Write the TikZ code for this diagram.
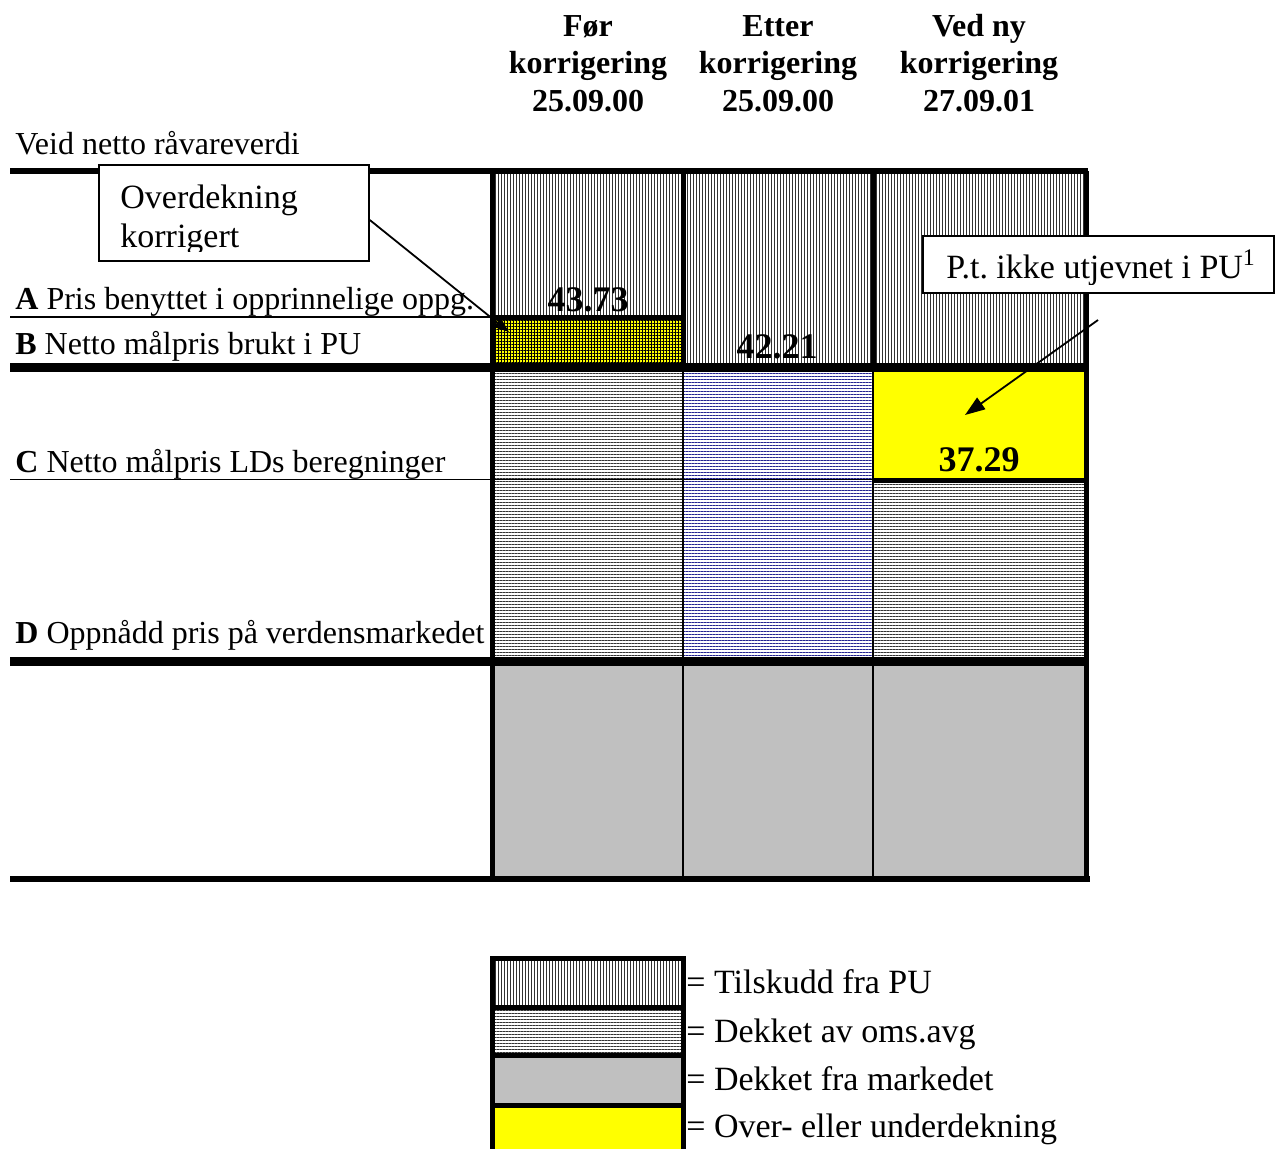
\documentclass[tikz,border=0pt]{standalone}
\usepackage{fontspec}
\setmainfont{Liberation Serif}
\frenchspacing
\usetikzlibrary{patterns.meta,arrows.meta}
\definecolor{mktgray}{RGB}{192,192,192}
\definecolor{hblue}{RGB}{35,35,145}
\definecolor{pureyellow}{RGB}{255,255,0}
\definecolor{hatchgray}{RGB}{50,50,50}
\begin{document}
\begin{tikzpicture}[x=0.5pt,y=-0.5pt,
  lbl/.style={font=\fontsize{16}{19}\selectfont, anchor=base west, inner sep=0pt},
  hdr/.style={font=\bfseries\fontsize{16}{19}\selectfont, anchor=base, inner sep=0pt},
  num/.style={font=\bfseries\fontsize{18}{21}\selectfont, anchor=base, inner sep=0pt},
  call/.style={font=\fontsize{17}{20}\selectfont, anchor=base west, inner sep=0pt},
  vhatch/.style={pattern={Lines[angle=90,distance=1.5pt,line width=0.5pt]}, pattern color=hatchgray},
  hhatch/.style={pattern={Lines[angle=0,distance=1.5pt,line width=0.5pt]}, pattern color=hatchgray},
  bhatch/.style={pattern={Lines[angle=0,distance=1.5pt,line width=0.5pt]}, pattern color=hblue},
  ygrid/.style={pattern={Hatch[angle=0,distance=1.5pt,line width=0.45pt]}, pattern color=black},
  thickrule/.style={line width=3pt},
  heavyrule/.style={line width=4.5pt},
  divider/.style={line width=2.5pt},
  thinrule/.style={line width=0.8pt},
  calloutbox/.style={draw, fill=white, line width=0.8pt, inner sep=0pt},
  pointer/.style={line width=0.9pt}
]
\useasboundingbox (0,0) rectangle (1276,1148);

% ---------- column headers ----------
\node[hdr] (h1a) at (588,36) {Før};
\node[hdr] (h1b) at (588,73.5) {korrigering};
\node[hdr] (h1c) at (588,111) {25.09.00};
\node[hdr] (h2a) at (778,36) {Etter};
\node[hdr] (h2b) at (778,73.5) {korrigering};
\node[hdr] (h2c) at (778,111) {25.09.00};
\node[hdr] (h3a) at (979,36) {Ved ny};
\node[hdr] (h3b) at (979,73.5) {korrigering};
\node[hdr] (h3c) at (979,111) {27.09.01};

% ---------- fills ----------
\fill[vhatch] (492,171) rectangle (683,318);
\fill[pureyellow] (492,318) rectangle (683,367);
\fill[ygrid] (492,318) rectangle (683,367);
\fill[vhatch] (683,171) rectangle (873,367);
\fill[vhatch] (873,171) rectangle (1086,367);
\fill[hhatch] (492,367) rectangle (683,660);
\fill[bhatch] (683,367) rectangle (873,660);
\fill[pureyellow] (873,367) rectangle (1086,480);
\fill[hhatch] (873,480) rectangle (1086,660);
\fill[mktgray] (492,660) rectangle (1086,878);

% ---------- rules ----------
\draw[thinrule] (10,317) -- (492,317);
\draw[divider] (492,317) -- (683,317);
\draw[thinrule] (10,479.5) -- (873,479.5);
\draw[divider] (873,480.5) -- (1086,480.5);
\draw[divider] (683,171) -- (683,367);
\draw[divider] (873,171) -- (873,367);
\draw[line width=1pt] (683,367) -- (683,878);
\draw[line width=1pt] (873,367) -- (873,878);
\draw[divider] (492,171) -- (492,879);
\draw[divider] (1086,171) -- (1086,879);
\draw[thickrule] (10,171) -- (1088,171);
\draw[heavyrule] (10,367.5) -- (1088,367.5);
\draw[heavyrule] (10,661) -- (1088,661);
\draw[thickrule] (10,879) -- (1090,879);

% ---------- row labels ----------
\node[lbl] (veid) at (15,154) {Veid netto råvareverdi};
\node[lbl] (labA) at (15,309) {\textbf{A} Pris benyttet i opprinnelige oppg.};
\node[lbl] (labB) at (15,354) {\textbf{B} Netto målpris brukt i PU};
\node[lbl] (labC) at (15,472) {\textbf{C} Netto målpris LDs beregninger};
\node[lbl] (labD) at (15,643) {\textbf{D} Oppnådd pris på verdensmarkedet};

% ---------- values ----------
\node[num] (v1) at (588,311) {43.73};
\node[num] (v2) at (777,358) {42.21};
\node[num] (v3) at (979,471) {37.29};

% ---------- callout: Overdekning korrigert ----------
\node[calloutbox, minimum width=135pt, minimum height=48pt] (ovd) at (234,213) {};
\begin{scope}
  \clip (99,165) rectangle (369,251);
  \node[call] (ovdt1) at (120,208) {Overdekning};
  \node[call] (ovdt2) at (120,247) {korrigert};
\end{scope}
\coordinate (ovdtip) at (509,332);
\draw[pointer, -{Triangle[length=7.5pt,width=5.5pt]}] (ovd.east) ++(0,7) -- (ovdtip);

% ---------- callout: P.t. ikke utjevnet i PU ----------
\node[calloutbox, minimum width=175.5pt, minimum height=28.5pt] (pu) at (1098.75,264.5) {};
\begin{scope}
  \clip (923,236) rectangle (1276,284);
  \node[call] (put) at (946,278) {P.t. ikke utjevnet i PU\textsuperscript{1}};
\end{scope}
\coordinate (pufrom) at (1098,320);
\coordinate (puto) at (965,415);
\draw[pointer, -{Triangle[length=10pt,width=7pt]}] (pufrom) -- (puto);

% ---------- legend ----------
\draw[divider, vhatch] (492,958) rectangle (683,1007);
\draw[divider, hhatch] (492,1007) rectangle (683,1055.5);
\draw[divider, fill=mktgray] (492,1055.5) rectangle (683,1105.5);
\draw[divider, fill=pureyellow] (492,1105.5) rectangle (683,1170);
\node[call] (lg1) at (686,993) {= Tilskudd fra PU};
\node[call] (lg2) at (686,1042) {= Dekket av oms.avg};
\node[call] (lg3) at (686,1090) {= Dekket fra markedet};
\node[call] (lg4) at (686,1137) {= Over- eller underdekning};
\end{tikzpicture}
\end{document}
